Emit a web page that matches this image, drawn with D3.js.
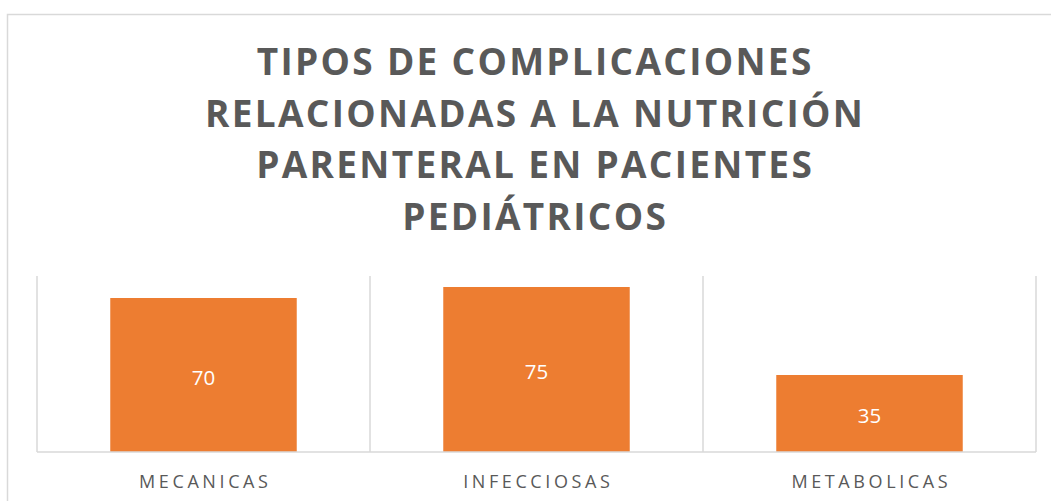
<!DOCTYPE html>
<html>
    <head>
        <meta charset="utf-8">
        <style>
            body { margin: 0; background: #fff; }
            text { font-family: "Open Sans", sans-serif; }
        </style>
    </head>
    <body>
        <svg id="chart" width="1051" height="501"></svg>

        <script src="https://d3js.org/d3.v7.min.js"></script>
        <script>
            // data
            const titleLines = ["TIPOS DE COMPLICACIONES", "RELACIONADAS A LA NUTRICIÓN", "PARENTERAL EN PACIENTES", "PEDIÁTRICOS"];
            const categories = ["MECANICAS", "INFECCIOSAS", "METABOLICAS"];
            const values = [70, 75, 35];

            const gridColor = "#d9d9d9";
            const textColor = "#595959";
            const barColor = "#ed7d31";

            const svg = d3.select("#chart");

            // chart border (runs off the page right and bottom)
            svg.append("rect")
                .attr("x", 7.5).attr("y", 14.5)
                .attr("width", 1100).attr("height", 600)
                .attr("fill", "none")
                .attr("stroke", gridColor)
                .attr("stroke-width", 1.5);

            // title
            const title = svg.append("text")
                .attr("text-anchor", "middle")
                .attr("font-size", 37)
                .attr("font-weight", "bold")
                .attr("letter-spacing", 2.3)
                .attr("fill", textColor);
            title.selectAll("tspan")
                .data(titleLines)
                .join("tspan")
                    .attr("x", 534 + 1.15)
                    .attr("y", (d, i) => 75 + i * 51.7)
                    .text(d => d);

            const plot = {left: 37, right: 1036, top: 276, bottom: 452};

            const x = d3.scaleBand()
                .domain(categories)
                .range([plot.left, plot.right])
                .paddingInner(0.44)
                .paddingOuter(0.22);

            const y = d3.scaleLinear()
                .domain([0, 80])
                .range([plot.bottom, plot.top]);

            // vertical category gridlines
            const step = x.step();
            const edges = d3.range(categories.length + 1).map(i => plot.left + i * step);
            svg.append("g")
                .selectAll("line")
                .data(edges)
                .join("line")
                    .attr("x1", d => d).attr("x2", d => d)
                    .attr("y1", plot.top).attr("y2", plot.bottom)
                    .attr("stroke", gridColor)
                    .attr("stroke-width", 1.5);

            // bars
            svg.append("g")
                .selectAll("rect")
                .data(values)
                .join("rect")
                    .attr("x", (d, i) => x(categories[i]))
                    .attr("y", d => y(d))
                    .attr("width", x.bandwidth())
                    .attr("height", d => y(0) - y(d))
                    .attr("fill", barColor);

            // baseline
            svg.append("line")
                .attr("x1", plot.left).attr("x2", plot.right)
                .attr("y1", plot.bottom).attr("y2", plot.bottom)
                .attr("stroke", gridColor)
                .attr("stroke-width", 1.5);

            // value labels
            svg.append("g")
                .selectAll("text")
                .data(values)
                .join("text")
                    .attr("x", (d, i) => x(categories[i]) + x.bandwidth() / 2)
                    .attr("y", d => (y(d) + y(0)) / 2 + 9.5)
                    .attr("text-anchor", "middle")
                    .attr("font-size", 20.5)
                    .attr("fill", "#fff")
                    .text(d => d);

            // category labels
            const xAxis = d3.axisBottom(x).tickSize(0).tickPadding(0);
            const gx = svg.append("g")
                .attr("transform", `translate(0,${plot.bottom})`)
                .call(xAxis);
            gx.select(".domain").remove();
            gx.selectAll("text")
                .attr("y", 36)
                .attr("dy", null)
                .attr("dx", 1.8)
                .attr("font-family", "Open Sans")
                .attr("font-size", 18)
                .attr("letter-spacing", 3.6)
                .attr("fill", textColor);
        </script>
    </body>
</html>
